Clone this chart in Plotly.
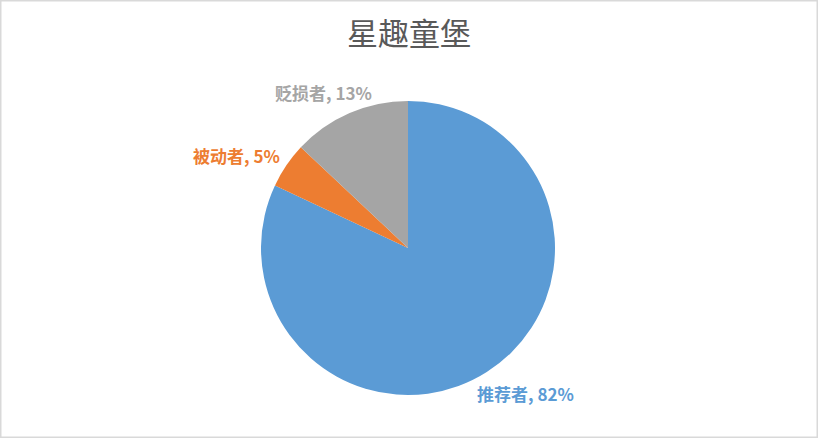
import plotly.graph_objects as go

# data
categories = ["推荐者", "被动者", "贬损者"]
shares = [82, 5, 13]
colors = ["#5B9BD5", "#ED7D31", "#A5A5A5"]
title_text = "星趣童堡"

fig = go.Figure()

fig.add_trace(go.Pie(
    labels=categories,
    values=shares,
    sort=False,
    direction="clockwise",
    rotation=0,
    marker=dict(colors=colors, line=dict(width=0)),
    textinfo="none",
    hoverinfo="label+percent",
    showlegend=False,
    domain=dict(x=[261 / 818, 555 / 818], y=[1 - 395 / 438, 1 - 101 / 438]),
))

# outside data labels, one per slice
label_pos = [(525, 393), (236, 155), (323, 92)]
for name, val, col, (px_, py_) in zip(categories, shares, colors, label_pos):
    fig.add_annotation(
        x=px_ / 818, y=1 - py_ / 438, xref="paper", yref="paper",
        text="<b>%s, %d%%</b>" % (name, val), showarrow=False,
        font=dict(size=17, color=col, family="Noto Sans CJK SC"),
        xanchor="center", yanchor="middle",
    )

fig.update_layout(
    width=818, height=438,
    margin=dict(l=0, r=0, t=0, b=0),
    paper_bgcolor="white",
    title=dict(text=title_text, x=0.5, xanchor="center", y=1 - 34 / 438, yanchor="middle",
               font=dict(size=31, color="#595959", family="Noto Sans CJK SC")),
    shapes=[dict(type="rect", xref="paper", yref="paper", x0=0, y0=0, x1=1, y1=1,
                 line=dict(color="#D9D9D9", width=3))],
)

# drop the default body margin so the figure sits at the page corner
fig.write_html("out.html", config={"displayModeBar": False},
               post_script="document.body.style.margin='0';document.body.style.overflow='hidden';")
